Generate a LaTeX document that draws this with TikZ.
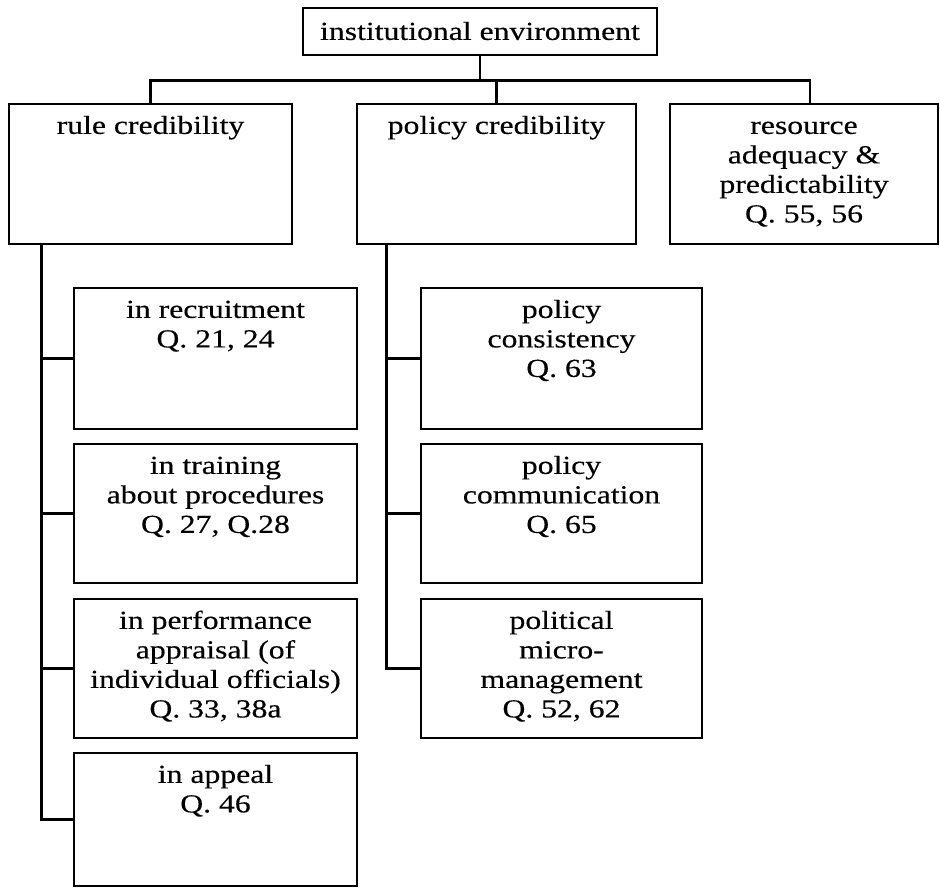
\documentclass[tikz,border=0pt]{standalone}
\usepackage{fontspec}
\setmainfont{Liberation Serif}[FakeStretch=1.22, FakeBold=0.3]
\usetikzlibrary{calc}

% strut that fixes the first baseline of every box caption
\newcommand\firststrut{\rule{0pt}{22pt}}

\tikzset{
  frame/.style={draw, line width=2.6pt, rectangle, inner sep=0pt},
  caption/.style={anchor=north, inner sep=0pt, align=center,
    font=\fontsize{26}{29.5}\selectfont, yshift=-9pt},
  link/.style={line width=2.6pt},
}

% \chartbox{name}{left}{top}{right}{bottom}{caption}
\newcommand\chartbox[6]{%
  \node[frame, minimum width={(#4)-(#2)}, minimum height={(#5)-(#3)}]
    (#1) at ({((#2)+(#4))/2},{((#3)+(#5))/2}) {};
  \node[caption] (#1-text) at (#1.north) {\firststrut #6};
}

\begin{document}
\begin{tikzpicture}[x=1pt, y=-1pt]
  \useasboundingbox (0,0) rectangle (940,889);

  % root
  \node[frame, minimum width=354, minimum height=47] (env) at (480,31.5) {};
  \node[caption, yshift=-2pt] (env-text) at (env.north) {\firststrut institutional environment};

  % first level
  \chartbox{rule}{9}{104}{292}{244}{rule credibility}
  \chartbox{policy}{357}{104}{636}{244}{policy credibility}
  \chartbox{res}{670}{104}{938}{244}{resource\\adequacy \&\\predictability\\Q. 55, 56}

  % rule credibility branches
  \chartbox{recr}{74}{288}{357}{429}{in recruitment\\Q. 21, 24}
  \chartbox{train}{74}{444}{357}{583}{in training\\about procedures\\Q. 27, Q.28}
  \chartbox{perf}{74}{599}{357}{738}{in performance\\appraisal (of\\individual officials)\\Q. 33, 38a}
  \chartbox{appeal}{74}{753}{357}{886}{in appeal\\Q. 46}

  % policy credibility branches
  \chartbox{cons}{421}{288}{702}{429}{policy\\consistency\\Q. 63}
  \chartbox{comm}{421}{444}{702}{583}{policy\\communication\\Q. 65}
  \chartbox{micro}{421}{599}{702}{738}{political\\micro-\\management\\Q. 52, 62}

  % tree connectors from the root
  \coordinate (junction) at (480,80.5);
  \draw[link] (env.south) -- (junction);
  \draw[link] (rule.north) |- (junction) -| ([xshift=6pt]res.north);
  \draw[link] (policy.north) -- (policy.north |- junction);

  % rule credibility spine
  \coordinate (rspine) at ($(rule.south west)+(34,0)$);
  \draw[link] (rspine) |- (appeal.west);
  \foreach \c in {recr, train, perf}
    \draw[link] (\c.west) -- (\c.west -| rspine);

  % policy credibility spine
  \coordinate (pspine) at ($(policy.south west)+(31,0)$);
  \draw[link] (pspine) |- (micro.west);
  \foreach \c in {cons, comm}
    \draw[link] (\c.west) -- (\c.west -| pspine);
\end{tikzpicture}
\end{document}
